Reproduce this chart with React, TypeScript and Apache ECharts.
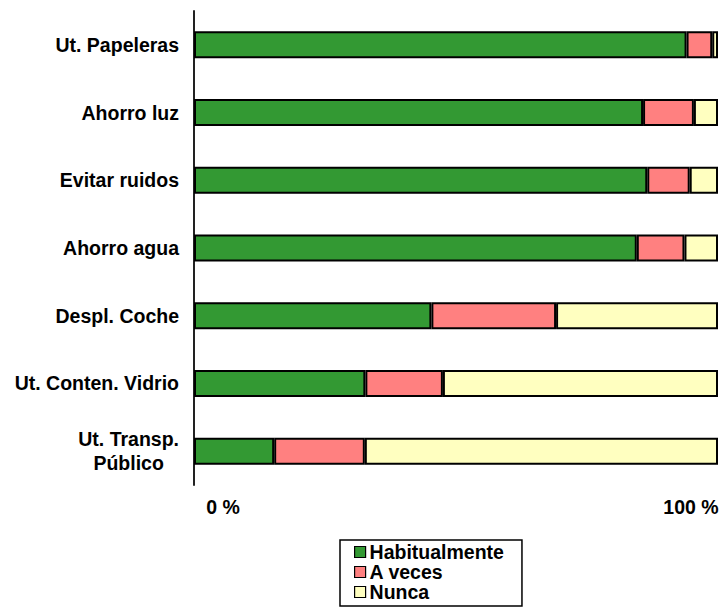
import React, { useEffect, useRef } from "react";
import * as echarts from "echarts";

const categories = [
  "Ut. Papeleras",
  "Ahorro luz",
  "Evitar ruidos",
  "Ahorro agua",
  "Despl. Coche",
  "Ut. Conten. Vidrio",
  "Ut. Transp.\nPúblico",
];
const habitualmente = [94.0, 85.7, 86.5, 84.5, 45.3, 32.7, 15.3];
const aVeces = [4.9, 9.7, 8.1, 9.1, 23.8, 14.8, 17.3];
const nunca = [1.1, 4.6, 5.4, 6.4, 30.9, 52.5, 67.4];
const seriesNames = ["Habitualmente", "A veces", "Nunca"];
const tickValues = [0, 100];

const FONT = "'Liberation Sans', Arial, Helvetica, sans-serif";

export default function App() {
  const ref = useRef<HTMLDivElement>(null);
  useEffect(() => {
    if (!ref.current) return;
    const chart = echarts.init(ref.current, null, { renderer: "svg" });
    const colors = ["#339933", "#FF8080", "#FFFFC0"];
    const data = [habitualmente, aVeces, nunca];
    chart.setOption({
      animation: false,
      backgroundColor: "#ffffff",
      grid: { left: 194, right: 4, top: 11, bottom: 123, containLabel: false },
      xAxis: {
        type: "value",
        min: tickValues[0],
        max: tickValues[tickValues.length - 1],
        interval: 100,
        axisLine: { show: false },
        axisTick: { show: false },
        splitLine: { show: false },
        axisLabel: {
          margin: 12,
          formatter: (v: number) => (v === 0 ? `{l|${v} %}` : `{r|${v} %}`),
          rich: {
            l: { padding: [0, 0, 0, 58], fontSize: 19.5, fontWeight: "bold", fontFamily: FONT, color: "#000" },
            r: { padding: [0, 54, 0, 0], fontSize: 19.5, fontWeight: "bold", fontFamily: FONT, color: "#000" },
          },
        },
      },
      yAxis: {
        type: "category",
        inverse: true,
        data: categories,
        axisLine: { show: true, lineStyle: { color: "#222", width: 2 } },
        axisTick: { show: false },
        axisLabel: {
          margin: 15,
          fontSize: 19.5,
          fontWeight: "bold",
          fontFamily: FONT,
          color: "#000",
          formatter: (v: string) =>
            v
              .split("\n")
              .map((s) => `{a|${s}}`)
              .join("\n"),
          rich: {
            a: {
              align: "center",
              fontSize: 19.5,
              fontWeight: "bold",
              fontFamily: FONT,
              color: "#000",
              lineHeight: 24,
            },
          },
        },
      },
      legend: {
        orient: "vertical",
        left: 340,
        top: 540,
        padding: [2, 18, 4, 14],
        itemGap: 0,
        itemWidth: 11,
        itemHeight: 11,
        icon: "rect",
        borderColor: "#000",
        borderWidth: 1.5,
        borderRadius: 0,
        itemStyle: { borderColor: "#000", borderWidth: 1.2 },
        textStyle: { fontSize: 19.5, fontWeight: "bold", fontFamily: FONT, color: "#000", padding: [0, 0, 0, -1] },
        data: seriesNames,
      },
      series: seriesNames.map((name, i) => ({
        name,
        type: "bar",
        stack: "total",
        barWidth: 27,
        data: data[i],
        itemStyle: { color: colors[i], borderColor: "#000", borderWidth: 2 },
      })),
    });
    return () => chart.dispose();
  }, []);
  return (
    <div
      ref={ref}
      style={{ position: "absolute", left: 0, top: 0, width: 722, height: 608 }}
    />
  );
}
